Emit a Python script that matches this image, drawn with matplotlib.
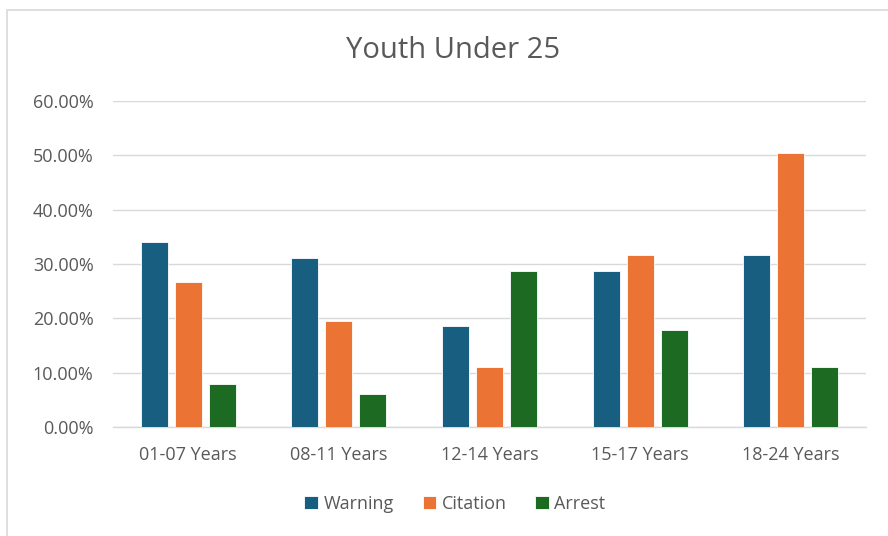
import numpy as np
import matplotlib.pyplot as plt
from matplotlib.patches import Rectangle
from matplotlib.ticker import FuncFormatter

categories = ['01-07 Years', '08-11 Years', '12-14 Years', '15-17 Years', '18-24 Years']
warning = [34.1, 31.1, 18.5, 28.7, 31.7]
citation = [26.6, 19.5, 11.0, 31.7, 50.4]
arrest = [8.0, 6.0, 28.7, 17.9, 11.0]

series = [('Warning', warning, '#175E80'),
          ('Citation', citation, '#EB7333'),
          ('Arrest', arrest, '#1D6A22')]

plt.rcParams['font.family'] = ['Open Sans', 'DejaVu Sans']
text_color = '#595959'

fig = plt.figure(figsize=(8.88, 5.36), dpi=100)
ax = fig.add_axes([113 / 888, 1 - 427 / 536, (866 - 113) / 888, (427 - 101) / 536])

# chart frame
fig.patches.append(Rectangle((7 / 888, -0.1), 1.2, 1 - 10 / 536 + 0.1,
                             transform=fig.transFigure, fill=False,
                             edgecolor='#d9d9d9', linewidth=1.2))

x = np.arange(len(categories))
width = 0.18
step = 0.226
for i, (name, vals, col) in enumerate(series):
    ax.bar(x + (i - 1) * step, vals, width, color=col, label=name,
           edgecolor='#ffffff', linewidth=0.6, zorder=3)

ax.set_xlim(-0.5, len(categories) - 0.5)
ax.set_ylim(0, 60)
ax.set_yticks(np.arange(0, 61, 10))
ax.yaxis.set_major_formatter(FuncFormatter(lambda v, p: f'{v:.2f}%'))
ax.set_xticks(x)
ax.set_xticklabels(categories)

ax.grid(axis='y', color='#d9d9d9', linewidth=1, zorder=0)
for s in ['top', 'right', 'left']:
    ax.spines[s].set_visible(False)
ax.spines['bottom'].set_color('#d9d9d9')
ax.spines['bottom'].set_linewidth(1)
ax.tick_params(axis='both', length=0, labelsize=13, colors=text_color)
ax.tick_params(axis='y', pad=14)
ax.tick_params(axis='x', pad=14)

fig.text(453 / 888, 1 - 51 / 536, 'Youth Under 25', ha='center', va='center',
         fontsize=21, color=text_color)

leg = ax.legend(loc='center', bbox_to_anchor=(455 / 888, 1 - 504 / 536),
                bbox_transform=fig.transFigure, ncol=3, frameon=False,
                fontsize=13, handlelength=0.75, handleheight=0.75,
                handletextpad=0.3, columnspacing=1.6)
for t in leg.get_texts():
    t.set_color(text_color)

fig.savefig('out.png', dpi=100, facecolor='white')
